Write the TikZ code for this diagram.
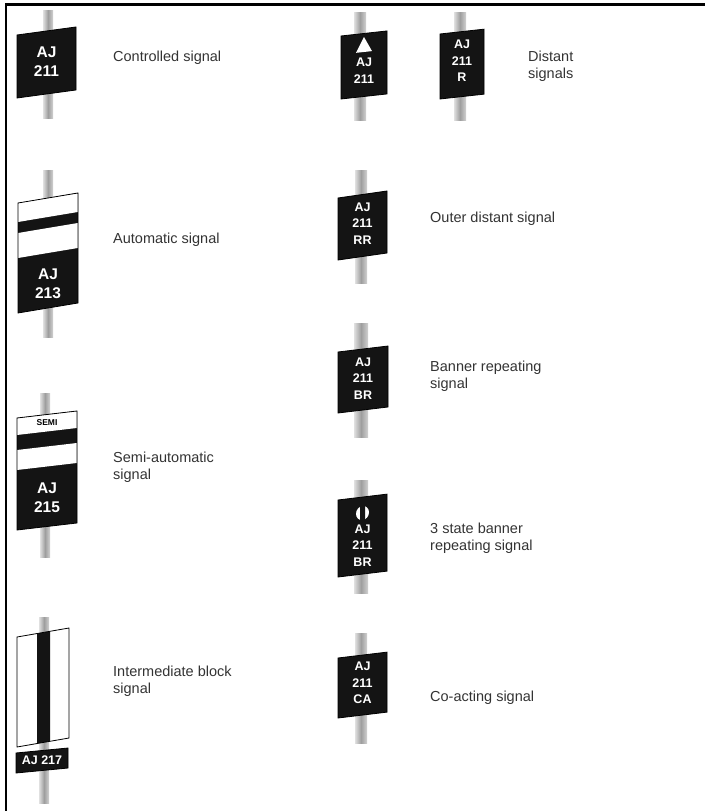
\documentclass[tikz,border=0pt]{standalone}
\usepackage{fontspec}
\setmainfont{Liberation Sans}
\tikzset{
  pole/.style     = {left color=black!12, right color=black!18, middle color=black!38},
  plate/.style    = {draw=black, fill=black!92, line width=0.8pt},
  band/.style     = {fill=white},
  rim/.style      = {draw=black, line width=0.8pt},
  bigtxt/.style   = {text=white, align=center, inner sep=0pt,
                     font=\bfseries\fontsize{15.5}{19}\selectfont},
  smalltxt/.style = {text=white, align=center, inner sep=0pt,
                     font=\bfseries\fontsize{12.5}{16.5}\selectfont},
  lbl/.style      = {anchor=west, align=left, inner sep=0pt, text=black!80,
                     font=\fontsize{14.5}{17}\selectfont},
  frame/.style    = {line width=2.5pt}
}
\begin{document}
\begin{tikzpicture}[x=1pt,y=-1pt]
  \useasboundingbox (0,0) rectangle (705,811);
  \draw[frame] (6,811) -- (6,4.5) -- (705,4.5);

  % left column
  \fill[pole] (43,10) rectangle (53,118);
  \begin{scope}[shift={(17,0)},yslant=0.136]
    \draw[plate] (0,35) rectangle (59,98);
    \node[bigtxt] (ctl) at (29.5,65.5) {AJ\\211};
  \end{scope}
  \node[lbl] (ctl-l) at (113,58) {Controlled signal};

  \fill[pole] (43,170) rectangle (53,337);
  \begin{scope}[shift={(18,0)},yslant=0.167]
    \fill[black!92] (0,203) rectangle (60,313);
    \fill[band] (0,203) rectangle (60,222);
    \fill[band] (0,233) rectangle (60,258);
    \draw[rim] (0,203) rectangle (60,313);
    \node[bigtxt] (aut) at (30,289) {AJ\\213};
  \end{scope}
  \node[lbl] (aut-l) at (113,240) {Automatic signal};

  \fill[pole] (40,393) rectangle (50,557);
  \begin{scope}[shift={(17,0)},yslant=0.117]
    \fill[black!92] (0,418) rectangle (60,530);
    \fill[band] (0,418) rectangle (60,435);
    \fill[band] (0,450) rectangle (60,470);
    \draw[rim] (0,418) rectangle (60,530);
    \node[inner sep=0pt, font=\bfseries\fontsize{8.5}{10}\selectfont] (semi-t) at (30,426.5) {SEMI};
    \node[bigtxt] (semi) at (30,501.5) {AJ\\215};
  \end{scope}
  \node[lbl] (semi-l) at (113,467) {Semi-automatic\\signal};

  \fill[pole] (39,617) rectangle (49,803);
  \begin{scope}[shift={(17,0)},yslant=0.173]
    \fill[white] (0,637) rectangle (52,747);
    \fill[black!92] (20,637) rectangle (33,747);
    \draw[rim] (0,637) rectangle (52,747);
  \end{scope}
  \begin{scope}[shift={(16,0)},yslant=0.096]
    \draw[plate] (0,753) rectangle (52,773);
    \node[smalltxt] (ib) at (26,763) {AJ 217};
  \end{scope}
  \node[lbl] (ib-l) at (113,681.5) {Intermediate block\\signal};

  % right column
  \fill[pole] (354,12) rectangle (366,120);
  \begin{scope}[shift={(341,0)},yslant=0.11]
    \draw[plate] (0,36) rectangle (46,99);
    \fill[white] (23,39.5) -- (31,54.5) -- (15,54.5) -- cycle;
    \node[smalltxt] (dst) at (23,73) {AJ\\211};
  \end{scope}
  \fill[pole] (454,12) rectangle (466,120);
  \begin{scope}[shift={(440,0)},yslant=0.11]
    \draw[plate] (0,34) rectangle (44,99);
    \node[smalltxt] (dst-r) at (22,63.4) {AJ\\211\\R};
  \end{scope}
  \node[lbl] (dst-l) at (528,66.5) {Distant\\signals};

  \fill[pole] (355,170) rectangle (367,283);
  \begin{scope}[shift={(338,0)},yslant=0.143]
    \draw[plate] (0,198) rectangle (49,260);
    \node[smalltxt] (out) at (24.5,227) {AJ\\211\\RR};
  \end{scope}
  \node[lbl] (out-l) at (430,219) {Outer distant signal};

  \fill[pole] (354,323) rectangle (368,437);
  \begin{scope}[shift={(338,0)},yslant=0.12]
    \draw[plate] (0,352) rectangle (50,413);
    \node[smalltxt] (ban) at (25,381.5) {AJ\\211\\BR};
  \end{scope}
  \node[lbl] (ban-l) at (430,376.5) {Banner repeating\\signal};

  \fill[pole] (354,480) rectangle (368,593);
  \begin{scope}[shift={(338,0)},yslant=0.12]
    \draw[plate] (0,500) rectangle (49,577);
    \fill[white] (24.5,516) ellipse [x radius=6.5pt, y radius=7pt];
    \fill[black!92] (22,508) rectangle (27,524);
    \node[smalltxt] (tri) at (24.5,548.5) {AJ\\211\\BR};
  \end{scope}
  \node[lbl] (tri-l) at (430,538.5) {3 state banner\\repeating signal};

  \fill[pole] (355,633) rectangle (367,743);
  \begin{scope}[shift={(338,0)},yslant=0.12]
    \draw[plate] (0,658) rectangle (49,718);
    \node[smalltxt] (coa) at (24.5,686) {AJ\\211\\CA};
  \end{scope}
  \node[lbl] (coa-l) at (430,698) {Co-acting signal};
\end{tikzpicture}
\end{document}
